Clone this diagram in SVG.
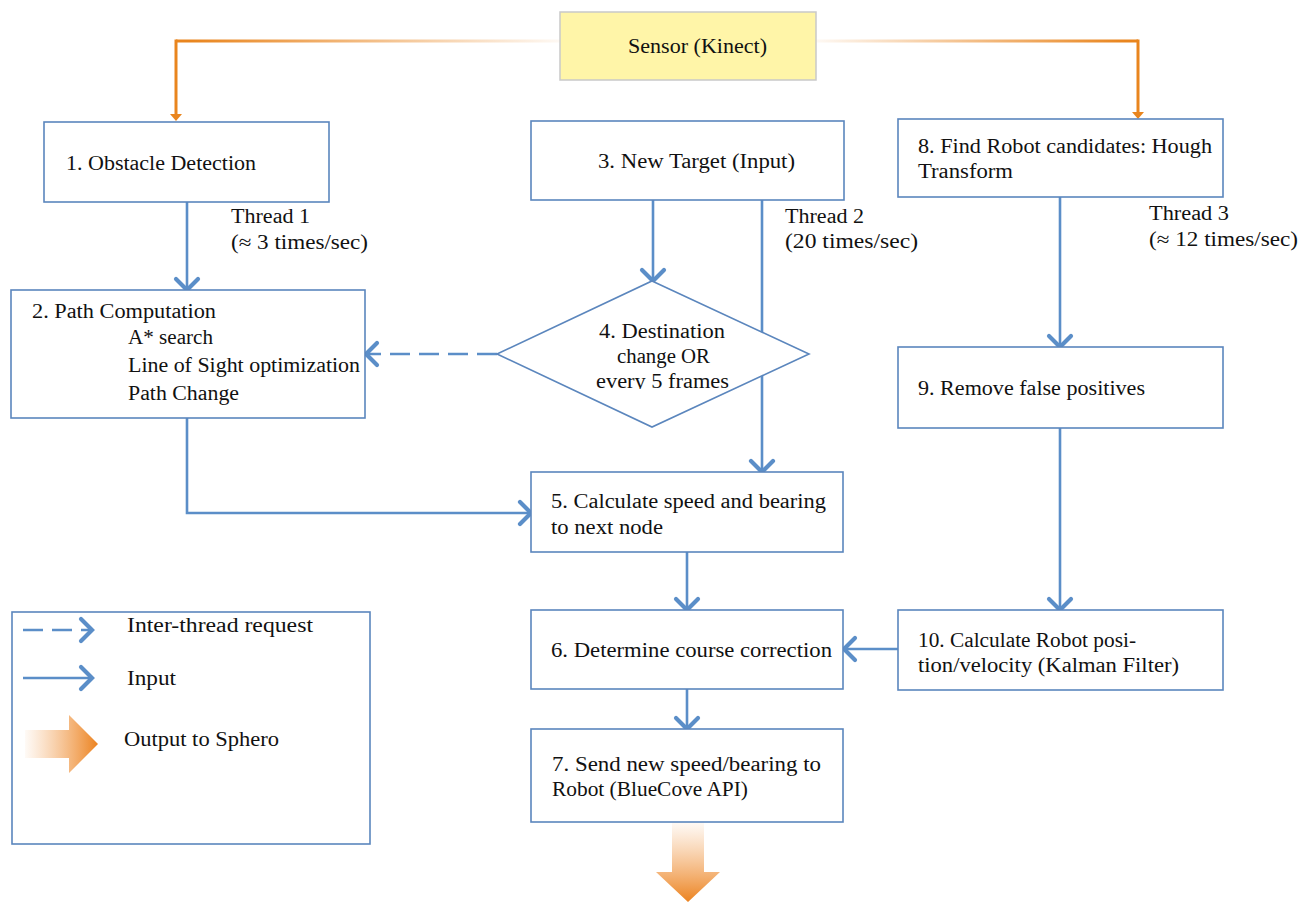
<svg xmlns="http://www.w3.org/2000/svg" width="1301" height="902" viewBox="0 0 1301 902">
<style>
.box{fill:#fff;stroke:#5b86bd;stroke-width:1.6}
.t{font-family:"Liberation Serif","Times New Roman",serif;font-size:20px;fill:#111}
.c{fill:none;stroke:#5b8ec8;stroke-width:2.6}
.d{stroke-dasharray:20 9}
.o{fill:none;stroke:#e9851e;stroke-width:3}
</style>
<defs>
<marker id="ch" viewBox="-15 -15 30 30" markerWidth="30" markerHeight="30" markerUnits="userSpaceOnUse" refX="0" refY="0" orient="auto">
<path d="M -11 -11 L 0 0 L -11 11" fill="none" stroke="#5b8ec8" stroke-width="4.2" stroke-linecap="round" stroke-dasharray="none"/>
</marker>
<linearGradient id="gl" gradientUnits="userSpaceOnUse" x1="560" y1="0" x2="190" y2="0">
<stop offset="0" stop-color="#e9851e" stop-opacity="0.05"/>
<stop offset="1" stop-color="#e9851e" stop-opacity="1"/>
</linearGradient>
<linearGradient id="gr" gradientUnits="userSpaceOnUse" x1="816" y1="0" x2="1125" y2="0">
<stop offset="0" stop-color="#e9851e" stop-opacity="0.05"/>
<stop offset="1" stop-color="#e9851e" stop-opacity="1"/>
</linearGradient>
<linearGradient id="gd" gradientUnits="userSpaceOnUse" x1="0" y1="822" x2="0" y2="902">
<stop offset="0" stop-color="#f2a157" stop-opacity="0.05"/>
<stop offset="1" stop-color="#ec8320" stop-opacity="1"/>
</linearGradient>
<linearGradient id="gh" gradientUnits="userSpaceOnUse" x1="25" y1="0" x2="98" y2="0">
<stop offset="0" stop-color="#f2a157" stop-opacity="0.05"/>
<stop offset="1" stop-color="#ec8320" stop-opacity="1"/>
</linearGradient>
<clipPath id="dclip"><rect x="480" y="300" width="300" height="89"/></clipPath>
</defs>

<g id="connectors">
<path d="M 560 41 H 176" fill="none" stroke="url(#gl)" stroke-width="3"/>
<path class="o" d="M 176 39.5 V 115"/>
<polygon points="170,114 182,114 176,121" fill="#e9851e"/>
<path d="M 816 41 H 1138" fill="none" stroke="url(#gr)" stroke-width="3"/>
<path class="o" d="M 1138 39.5 V 113"/>
<polygon points="1132,112 1144,112 1138,119" fill="#e9851e"/>

<path class="c" d="M 187 202 V 290" marker-end="url(#ch)"/>
<path class="c" d="M 653 200 V 281" marker-end="url(#ch)"/>
<path class="c" d="M 762 200 V 472" marker-end="url(#ch)"/>
<path class="c d" d="M 497 354 H 366" marker-end="url(#ch)"/>
<path class="c" d="M 187 418 V 513 H 531" marker-end="url(#ch)"/>
<path class="c" d="M 1060 197 V 347" marker-end="url(#ch)"/>
<path class="c" d="M 1060 428 V 610" marker-end="url(#ch)"/>
<path class="c" d="M 898 649 H 844" marker-end="url(#ch)"/>
<path class="c" d="M 687 552 V 610" marker-end="url(#ch)"/>
<path class="c" d="M 687 689 V 729" marker-end="url(#ch)"/>
<path d="M 672 822 H 704 V 872 H 720 L 688 902 L 656 872 H 672 Z" fill="url(#gd)"/>
</g>

<g id="sensor">
<rect x="560" y="12" width="256" height="68" fill="#fff5a8" stroke="#c9c9c9" stroke-width="1.5"/>
<text class="t" x="628" y="53" textLength="139" lengthAdjust="spacingAndGlyphs">Sensor (Kinect)</text>
</g>

<g id="n1">
<rect class="box" x="44" y="122" width="285" height="80"/>
<text class="t" x="66" y="170" textLength="190" lengthAdjust="spacingAndGlyphs">1. Obstacle Detection</text>
</g>
<g id="thread1">
<text class="t" x="231" y="223" textLength="79" lengthAdjust="spacingAndGlyphs">Thread 1</text>
<text class="t" x="231" y="249" textLength="137" lengthAdjust="spacingAndGlyphs">(≈ 3 times/sec)</text>
</g>

<g id="n2">
<rect class="box" x="11" y="290" width="354" height="128"/>
<text class="t" x="32" y="318" textLength="184" lengthAdjust="spacingAndGlyphs">2. Path Computation</text>
<text class="t" x="128" y="344" textLength="85" lengthAdjust="spacingAndGlyphs">A* search</text>
<text class="t" x="128" y="372" textLength="232" lengthAdjust="spacingAndGlyphs">Line of Sight optimization</text>
<text class="t" x="128" y="400" textLength="111" lengthAdjust="spacingAndGlyphs">Path Change</text>
</g>

<g id="n3">
<rect class="box" x="531" y="121" width="313" height="79"/>
<text class="t" x="598" y="168" textLength="197" lengthAdjust="spacingAndGlyphs">3. New Target (Input)</text>
</g>
<g id="thread2">
<text class="t" x="785" y="223" textLength="79" lengthAdjust="spacingAndGlyphs">Thread 2</text>
<text class="t" x="785" y="248" textLength="133" lengthAdjust="spacingAndGlyphs">(20 times/sec)</text>
</g>

<g id="n4">
<polygon points="652,281 809,354 652,427 497,354" fill="#fff" stroke="#5b86bd" stroke-width="1.6"/>
<g clip-path="url(#dclip)">
<text class="t" x="599" y="338" textLength="126" lengthAdjust="spacingAndGlyphs">4. Destination</text>
<text class="t" x="617" y="363" textLength="93" lengthAdjust="spacingAndGlyphs">change OR</text>
<text class="t" x="596" y="388" textLength="133" lengthAdjust="spacingAndGlyphs">every 5 frames</text>
</g>
</g>

<g id="n5">
<rect class="box" x="531" y="472" width="312" height="80"/>
<text class="t" x="551" y="508" textLength="275" lengthAdjust="spacingAndGlyphs">5. Calculate speed and bearing</text>
<text class="t" x="551" y="534" textLength="112" lengthAdjust="spacingAndGlyphs">to next node</text>
</g>

<g id="n6">
<rect class="box" x="531" y="610" width="312" height="79"/>
<text class="t" x="551" y="657" textLength="281" lengthAdjust="spacingAndGlyphs">6. Determine course correction</text>
</g>

<g id="n7">
<rect class="box" x="531" y="729" width="312" height="93"/>
<text class="t" x="552" y="771" textLength="269" lengthAdjust="spacingAndGlyphs">7. Send new speed/bearing to</text>
<text class="t" x="552" y="796" textLength="196" lengthAdjust="spacingAndGlyphs">Robot (BlueCove API)</text>
</g>

<g id="n8">
<rect class="box" x="898" y="119" width="325" height="78"/>
<text class="t" x="918" y="153" textLength="294" lengthAdjust="spacingAndGlyphs">8. Find Robot candidates: Hough</text>
<text class="t" x="918" y="178" textLength="95" lengthAdjust="spacingAndGlyphs">Transform</text>
</g>
<g id="thread3">
<text class="t" x="1149" y="220" textLength="80" lengthAdjust="spacingAndGlyphs">Thread 3</text>
<text class="t" x="1149" y="246" textLength="149" lengthAdjust="spacingAndGlyphs">(≈ 12 times/sec)</text>
</g>

<g id="n9">
<rect class="box" x="898" y="347" width="325" height="81"/>
<text class="t" x="918" y="395" textLength="227" lengthAdjust="spacingAndGlyphs">9. Remove false positives</text>
</g>

<g id="n10">
<rect class="box" x="898" y="610" width="325" height="80"/>
<text class="t" x="918" y="647" textLength="218" lengthAdjust="spacingAndGlyphs">10. Calculate Robot posi-</text>
<text class="t" x="918" y="672" textLength="261" lengthAdjust="spacingAndGlyphs">tion/velocity (Kalman Filter)</text>
</g>

<g id="legend">
<rect class="box" x="12" y="612" width="358" height="232"/>
<path class="c d" d="M 23 630 H 92" stroke-dasharray="21 8" marker-end="url(#ch)"/>
<text class="t" x="127" y="632" textLength="186" lengthAdjust="spacingAndGlyphs">Inter-thread request</text>
<path class="c" d="M 23 678 H 92" marker-end="url(#ch)"/>
<text class="t" x="127" y="685" textLength="49" lengthAdjust="spacingAndGlyphs">Input</text>
<path d="M 25 730 H 69 V 715 L 98 744 L 69 773 V 758 H 25 Z" fill="url(#gh)"/>
<text class="t" x="124" y="746" textLength="155" lengthAdjust="spacingAndGlyphs">Output to Sphero</text>
</g>
</svg>
